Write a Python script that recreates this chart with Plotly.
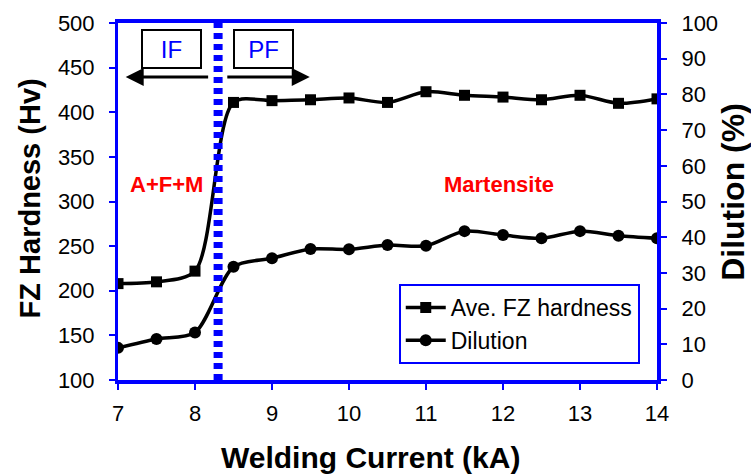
import plotly.graph_objects as go

# ---- data ----
current_kA = [7, 7.5, 8, 8.5, 9, 9.5, 10, 10.5, 11, 11.5, 12, 12.5, 13, 13.5, 14]
fz_hardness = [208, 210, 222, 411, 413, 414, 416, 411, 423, 419, 417, 414, 419, 410, 415]
dilution_pct = [9, 11.5, 13.3, 31.7, 34.1, 36.7, 36.6, 37.8, 37.6, 41.7, 40.6, 39.7, 41.7, 40.4, 39.7]
transition_current = 8.3
x_ticks = [7, 8, 9, 10, 11, 12, 13, 14]
y_ticks = [100, 150, 200, 250, 300, 350, 400, 450, 500]
y2_ticks = [0, 10, 20, 30, 40, 50, 60, 70, 80, 90, 100]

FONT = "Liberation Sans, Arial, sans-serif"
BLUE = "#0000FF"

fig = go.Figure()
fig.add_trace(go.Scatter(
    x=current_kA, y=fz_hardness, name="Ave. FZ hardness",
    mode="lines+markers",
    line=dict(color="black", width=3.5, shape="spline", smoothing=0.8),
    marker=dict(symbol="square", size=11, color="black"),
))
fig.add_trace(go.Scatter(
    x=current_kA, y=dilution_pct, name="Dilution", yaxis="y2",
    mode="lines+markers",
    line=dict(color="black", width=3.5, shape="spline", smoothing=0.8),
    marker=dict(symbol="circle", size=12, color="black"),
))

fig.add_shape(type="line", xref="x", yref="paper",
              x0=transition_current, x1=transition_current, y0=0, y1=1,
              line=dict(color=BLUE, width=9, dash="6px,5px"))

annotations = []
# axis titles
annotations.append(dict(text="<b>Welding Current (kA)</b>", xref="paper", yref="paper",
                        x=0.469, y=-0.216, xanchor="center", yanchor="middle",
                        showarrow=False,
                        font=dict(family=FONT, size=30, color="black")))
annotations.append(dict(text="<b>FZ Hardness (Hv)</b>", xref="paper", yref="paper",
                        x=-0.163, y=0.509, xanchor="center", yanchor="middle",
                        showarrow=False, textangle=-90,
                        font=dict(family=FONT, size=29, color="black")))
annotations.append(dict(text="<b>Dilution (%)</b>", xref="paper", yref="paper",
                        x=1.141, y=0.527, xanchor="center", yanchor="middle",
                        showarrow=False, textangle=-90,
                        font=dict(family=FONT, size=32, color="black")))
# IF / PF boxes
for label, xc in [("IF", 7.695), ("PF", 8.896)]:
    annotations.append(dict(text=label, xref="x", yref="paper", x=xc, y=0.927,
                            xanchor="center", yanchor="middle",
                            showarrow=False, width=55, height=34,
                            bordercolor="black", borderwidth=2, bgcolor="white",
                            font=dict(family=FONT, size=24, color=BLUE)))
# arrows
annotations.append(dict(text="", xref="x", yref="paper", x=7.10, y=0.849,
                        axref="x", ax=8.19, ayref="pixel", ay=0,
                        showarrow=True, arrowhead=2, arrowsize=1.2, arrowwidth=3,
                        arrowcolor="black"))
annotations.append(dict(text="", xref="x", yref="paper", x=9.49, y=0.849,
                        axref="x", ax=8.40, ayref="pixel", ay=0,
                        showarrow=True, arrowhead=2, arrowsize=1.2, arrowwidth=3,
                        arrowcolor="black"))
# phase labels
annotations.append(dict(text="<b>A+F+M</b>", xref="x", yref="paper", x=7.636, y=0.549,
                        xanchor="center", yanchor="middle", showarrow=False,
                        font=dict(family=FONT, size=22, color="#FF0000")))
annotations.append(dict(text="<b>Martensite</b>", xref="x", yref="paper", x=11.95, y=0.549,
                        xanchor="center", yanchor="middle", showarrow=False,
                        font=dict(family=FONT, size=22, color="#FF0000")))

fig.update_layout(
    width=751, height=476,
    margin=dict(l=118, r=94, t=23, b=96),
    paper_bgcolor="white", plot_bgcolor="white",
    font=dict(family=FONT, size=22, color="black"),
    showlegend=True,
    legend=dict(x=0.968, y=0.045, xanchor="right", yanchor="bottom",
                bordercolor=BLUE, borderwidth=2, bgcolor="white",
                font=dict(family=FONT, size=23, color="black"),
                tracegroupgap=0, itemwidth=40),
    annotations=annotations,
    xaxis=dict(range=[7, 14], tickvals=x_ticks, ticks="outside", ticklen=6,
               tickcolor=BLUE, tickwidth=2, showline=True, linecolor=BLUE,
               linewidth=4, mirror=True, showgrid=False, zeroline=False,
               ticklabelstandoff=5, tickfont=dict(size=22)),
    yaxis=dict(range=[100, 500], tickvals=y_ticks, ticks="outside", ticklen=6,
               tickcolor=BLUE, tickwidth=2, showline=True, linecolor=BLUE,
               linewidth=3, showgrid=False, zeroline=False,
               ticklabelstandoff=10, tickfont=dict(size=22)),
    yaxis2=dict(range=[0, 100], tickvals=y2_ticks, ticks="outside", ticklen=6,
                tickcolor=BLUE, tickwidth=2, showline=True, linecolor=BLUE,
                linewidth=4, showgrid=False, zeroline=False, overlaying="y",
                side="right", ticklabelstandoff=10, tickfont=dict(size=22)),
)

fig.write_html("out.html")
